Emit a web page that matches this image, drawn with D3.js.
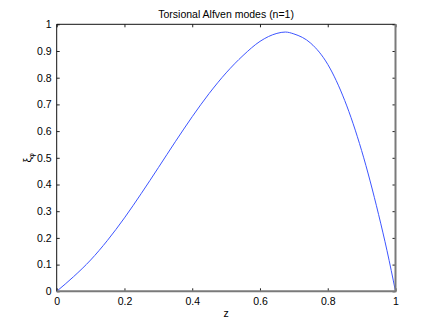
<!DOCTYPE html>
<html>
<head>
<meta charset="utf-8">
<script src="https://cdn.jsdelivr.net/npm/d3@7"></script>
<style>
  html, body { margin: 0; padding: 0; background: #fff; }
  svg { display: block; font-family: "Liberation Sans", Arial, Helvetica, sans-serif; }
  .tick text { font-size: 10.5px; fill: #000; }
</style>
</head>
<body>
<svg id="chart" width="436" height="327"></svg>
<script>
// values
const zValues  = [0, 0.05, 0.1, 0.15, 0.2, 0.25, 0.3, 0.35, 0.4, 0.45, 0.5, 0.55, 0.6, 0.65, 0.675, 0.7, 0.75, 0.8, 0.85, 0.9, 0.95, 0.975, 1];
const xiValues = [0, 0.055, 0.117, 0.191, 0.275, 0.367, 0.463, 0.56, 0.654, 0.741, 0.818, 0.883, 0.936, 0.966, 0.971, 0.964, 0.929, 0.85, 0.715, 0.527, 0.288, 0.152, 0];
const xTicks = [0, 0.2, 0.4, 0.6, 0.8, 1];
const yTicks = [0, 0.1, 0.2, 0.3, 0.4, 0.5, 0.6, 0.7, 0.8, 0.9, 1];

const svg = d3.select('#chart');
const box = { left: 56.7, right: 395.5, top: 24.3, bottom: 291.3 };

const x = d3.scaleLinear().domain([0, 1]).range([box.left, box.right]);
const y = d3.scaleLinear().domain([0, 1]).range([box.bottom, box.top]);

const fmt = d => d === 0 || d === 1 ? String(d) : d3.format('.1f')(d);

// bottom axis (labels + inward ticks)
const gx = svg.append('g').attr('transform', `translate(0,${box.bottom})`)
  .call(d3.axisBottom(x).tickValues(xTicks).tickFormat(fmt).tickSizeInner(-3).tickSizeOuter(0).tickPadding(6));
// left axis
const gy = svg.append('g').attr('transform', `translate(${box.left},0)`)
  .call(d3.axisLeft(y).tickValues(yTicks).tickFormat(fmt).tickSizeInner(-3).tickSizeOuter(0).tickPadding(5));
// mirrored ticks top/right
const gt = svg.append('g').attr('transform', `translate(0,${box.top})`)
  .call(d3.axisTop(x).tickValues(xTicks).tickFormat('').tickSizeInner(-3).tickSizeOuter(0));
const gr = svg.append('g').attr('transform', `translate(${box.right},0)`)
  .call(d3.axisRight(y).tickValues(yTicks).tickFormat('').tickSizeInner(-3).tickSizeOuter(0));

[gx, gy, gt, gr].forEach(g => {
  g.select('.domain').remove();
  g.selectAll('.tick line').attr('stroke', '#222').attr('stroke-width', 1);
});

// curve
const line = d3.line().x((d, i) => x(zValues[i])).y(d => y(d)).curve(d3.curveMonotoneX);
svg.append('path').datum(xiValues)
  .attr('d', line).attr('fill', 'none').attr('stroke', '#3d55ff').attr('stroke-width', 1);

// box
svg.append('line').attr('x1', box.left).attr('x2', box.right).attr('y1', box.top).attr('y2', box.top).attr('stroke', '#111').attr('stroke-width', 1);
svg.append('line').attr('x1', box.left).attr('x2', box.left).attr('y1', box.top).attr('y2', box.bottom).attr('stroke', '#111').attr('stroke-width', 1);
svg.append('line').attr('x1', box.left).attr('x2', box.right + 1).attr('y1', box.bottom).attr('y2', box.bottom).attr('stroke', '#7a7a7a').attr('stroke-width', 2);
svg.append('line').attr('x1', box.right).attr('x2', box.right).attr('y1', box.top).attr('y2', box.bottom).attr('stroke', '#7a7a7a').attr('stroke-width', 2);

// title and labels
svg.append('text').attr('x', (box.left + box.right) / 2).attr('y', 17.5).attr('text-anchor', 'middle')
  .attr('font-size', 10.5).text('Torsional Alfven modes (n=1)');
svg.append('text').attr('x', (box.left + box.right) / 2).attr('y', 316.5).attr('text-anchor', 'middle')
  .attr('font-size', 10.5).text('z');
const yl = svg.append('text').attr('transform', `translate(31,${(box.top + box.bottom) / 2}) rotate(-90)`)
  .attr('text-anchor', 'middle').attr('font-size', 10.5);
yl.append('tspan').text('ξ');
yl.append('tspan').attr('font-size', 7.5).attr('dy', 3).text('φ');
</script>
</body>
</html>
